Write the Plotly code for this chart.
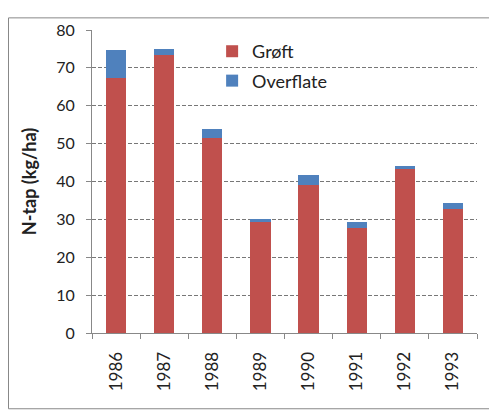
import plotly.graph_objects as go

years = ["1986", "1987", "1988", "1989", "1990", "1991", "1992", "1993"]
groft = [67.3, 73.3, 51.5, 29.2, 39.0, 27.6, 43.3, 32.8]
overflate = [7.5, 1.7, 2.3, 0.9, 2.8, 1.6, 0.8, 1.6]
y_ticks = [0, 10, 20, 30, 40, 50, 60, 70, 80]

FONT = "Lato"

fig = go.Figure()
fig.add_trace(go.Bar(x=years, y=groft, name="Grøft", marker_color="#C0504D",
                     marker_line_width=0, legendgroup="a"))
fig.add_trace(go.Bar(x=years, y=overflate, name="Overflate", marker_color="#4F81BD",
                     marker_line_width=0, legendgroup="b"))

W, H = 489, 406
L, T, R, B = 84, 13, 20, 81
pw, ph = W - L - R, H - T - B

fig.update_layout(
    width=W, height=H,
    margin=dict(l=L, r=R, t=T, b=B),
    barmode="stack", bargap=0.58,
    plot_bgcolor="white", paper_bgcolor="white",
    font=dict(family=FONT, size=16, color="#222"),
    showlegend=True,
    legend=dict(x=0.312, y=0.99, xanchor="left", yanchor="top",
                traceorder="grouped", tracegroupgap=3,
                font=dict(family=FONT, size=18, color="#222"),
                bgcolor="rgba(0,0,0,0)"),
    xaxis=dict(type="category", showline=True, linecolor="#888", linewidth=1,
               ticks="outside", ticklen=5, tickcolor="#888", tickson="boundaries",
               tickangle=-90, showgrid=False, tickfont=dict(size=17),
               ticklabelstandoff=11),
    yaxis=dict(range=[0, 80], tickvals=y_ticks, showline=True, linecolor="#888",
               linewidth=1, ticks="outside", ticklen=5, tickcolor="#888",
               showgrid=True, gridcolor="#777", griddash="4px,2px", gridwidth=1,
               zeroline=False, tickfont=dict(size=16), ticklabelstandoff=8,
               title=dict(text="<b>N-tap (kg/ha)</b>", font=dict(size=18), standoff=14)),
    shapes=[dict(type="rect", xref="paper", yref="paper",
                 x0=(0.5 - L) / pw, x1=(W - 1.5 - L) / pw,
                 y0=-(H - 3 - T - ph) / ph, y1=1 + (T - 0.5) / ph,
                 line=dict(color="#888", width=1))],
)

fig.write_html("out.html")
